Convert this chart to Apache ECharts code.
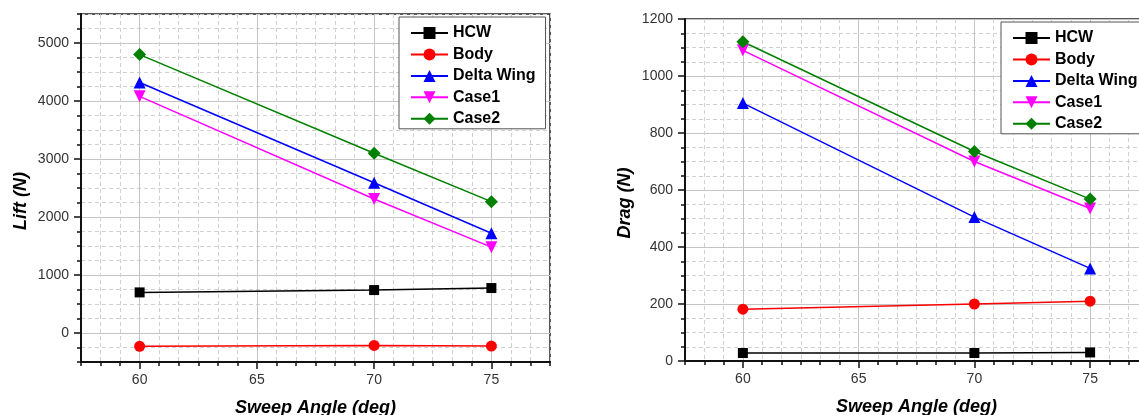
<!DOCTYPE html>
<html>
<head>
<meta charset="utf-8">
<script src="https://cdn.jsdelivr.net/npm/echarts@6/dist/echarts.min.js"></script>
<style>
html,body{margin:0;padding:0;background:#fff;}
#main{width:1139px;height:415px;}
</style>
</head>
<body>
<div id="main"></div>
<script>
// ---- data ----
const sweepAngles = [60, 70, 75];
const seriesNames = ['HCW', 'Body', 'Delta Wing', 'Case1', 'Case2'];
const liftHCW   = [700, 740, 775];
const liftBody  = [-230, -215, -225];
const liftDelta = [4320, 2590, 1720];
const liftCase1 = [4080, 2310, 1480];
const liftCase2 = [4800, 3100, 2265];
const dragHCW   = [28, 28, 30];
const dragBody  = [182, 200, 210];
const dragDelta = [905, 505, 325];
const dragCase1 = [1090, 700, 535];
const dragCase2 = [1120, 735, 568];
const xTickLabels = [60, 65, 70, 75];
const liftTickLabels = [0, 1000, 2000, 3000, 4000, 5000];
const dragTickLabels = [0, 200, 400, 600, 800, 1000, 1200];
const xLabel = 'Sweep Angle (deg)';
const liftLabel = 'Lift (N)';
const dragLabel = 'Drag (N)';

// ---- styles ----
const FONT = "'Liberation Sans', Arial, sans-serif";
const colors = ['#000000', '#ff0000', '#0000ff', '#ff00ff', '#008000'];
const symbols = ['rect', 'circle', 'triangle', 'triangle', 'diamond'];
const symbolSizes = [10, 11, 12, 12, 13];
const symbolRotates = [0, 0, 0, 180, 0];

const axisLineStyle = {show: true, onZero: false, lineStyle: {color: '#111', width: 2}};
const majorGrid = {show: true, lineStyle: {color: '#c4c4c4', width: 1, type: 'solid'}};
const minorGrid = {show: true, lineStyle: {color: '#d0d0d0', width: 1, type: [4, 3]}};
const labelStyle = {fontFamily: FONT, fontSize: 14, color: '#333', formatter: v => String(v)};
const nameStyle = {fontFamily: FONT, fontSize: 18, fontWeight: 'bold', fontStyle: 'italic', color: '#000'};

function xAxesFor(gridIndex) {
  return [
    { // minor ticks + dashed grid
      type: 'value', gridIndex, position: 'bottom', min: 57.5, max: 77.5, interval: 5 / 6,
      axisLine: axisLineStyle,
      axisTick: {show: true, inside: false, length: 4, lineStyle: {color: '#111', width: 1.5}},
      axisLabel: {show: false},
      splitLine: minorGrid
    },
    { // major ticks + labels + solid grid
      type: 'value', gridIndex, position: 'bottom', min: 57.5, max: 77.5,
      axisLine: {show: false, onZero: false},
      axisTick: {show: true, length: 7, customValues: xTickLabels, lineStyle: {color: '#111', width: 1.5}},
      axisLabel: Object.assign({show: true, margin: 11, customValues: xTickLabels}, labelStyle),
      splitLine: majorGrid,
      name: xLabel, nameLocation: 'middle', nameGap: 37, nameTextStyle: nameStyle
    }
  ];
}

function yAxesFor(gridIndex, min, max, minorStep, majorTicks, name) {
  return [
    {
      type: 'value', gridIndex, position: 'left', min, max, interval: minorStep,
      axisLine: axisLineStyle,
      axisTick: {show: true, length: 4, lineStyle: {color: '#111', width: 1.5}},
      axisLabel: {show: false},
      splitLine: minorGrid
    },
    {
      type: 'value', gridIndex, position: 'left', min, max,
      axisLine: {show: false, onZero: false},
      axisTick: {show: true, length: 7, customValues: majorTicks, lineStyle: {color: '#111', width: 1.5}},
      axisLabel: Object.assign({show: true, margin: 12, customValues: majorTicks}, labelStyle),
      splitLine: majorGrid,
      name, nameLocation: 'middle', nameGap: 51,
      nameTextStyle: Object.assign({padding: [0, 26, 0, 0]}, nameStyle)
    }
  ];
}

function makeSeries(gridIdx, datasets) {
  return datasets.map((vals, i) => ({
    type: 'line',
    name: seriesNames[i],
    xAxisIndex: gridIdx * 2,
    yAxisIndex: gridIdx * 2,
    data: sweepAngles.map((x, j) => [x, vals[j]]),
    symbol: symbols[i],
    symbolSize: symbolSizes[i],
    symbolRotate: symbolRotates[i],
    showAllSymbol: true,
    itemStyle: {color: colors[i]},
    lineStyle: {color: colors[i], width: 1.5},
    emphasis: {disabled: true},
    z: 3
  }));
}

function legendAt(left, top) {
  return {
    orient: 'vertical', left, top,
    data: seriesNames,
    itemWidth: 37, itemHeight: 15, itemGap: 5.45,
    padding: [8, 10, 2, 11],
    borderColor: '#555', borderWidth: 1, backgroundColor: '#fff',
    textStyle: {fontFamily: FONT, fontSize: 16, fontWeight: 'bold', color: '#000'},
    selectedMode: false
  };
}

const chart = echarts.init(document.getElementById('main'), null, {renderer: 'canvas'});
const xAxes = xAxesFor(0).concat(xAxesFor(1));
const yAxes = yAxesFor(0, -500, 5500, 250, liftTickLabels, liftLabel)
  .concat(yAxesFor(1, 0, 1200, 50, dragTickLabels, dragLabel));

chart.setOption({
  animation: false,
  backgroundColor: '#fff',
  grid: [
    {left: 81, right: 589, top: 14, bottom: 53, show: true, borderColor: '#222', borderWidth: 1.5, backgroundColor: 'transparent', outerBoundsMode: 'none'},
    {left: 685, right: -9, top: 19, bottom: 54, show: true, borderColor: '#222', borderWidth: 1.5, backgroundColor: 'transparent', outerBoundsMode: 'none'}
  ],
  xAxis: xAxes,
  yAxis: yAxes,
  legend: [legendAt(399, 17), legendAt(1001, 22)],
  series: makeSeries(0, [liftHCW, liftBody, liftDelta, liftCase1, liftCase2])
    .concat(makeSeries(1, [dragHCW, dragBody, dragDelta, dragCase1, dragCase2]))
});
</script>
</body>
</html>
